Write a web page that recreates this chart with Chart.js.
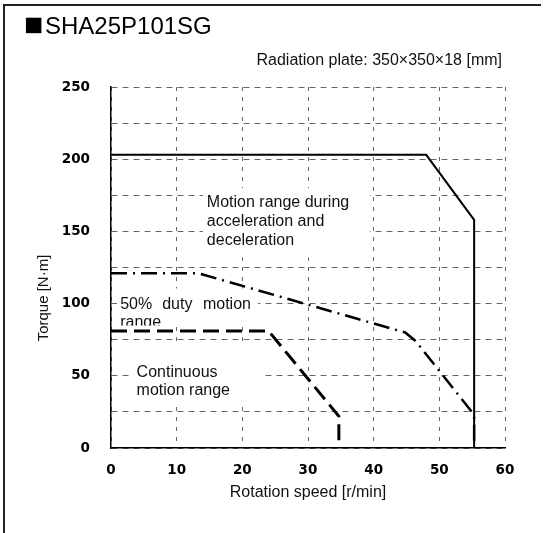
<!DOCTYPE html>
<html><head><meta charset="utf-8">
<script src="https://cdn.jsdelivr.net/npm/chart.js@4.4.0/dist/chart.umd.min.js"></script>
<style>html,body{margin:0;padding:0;background:#fff;} #c{display:block;}</style>
</head><body>
<canvas id="c" width="551" height="533"></canvas>
<script>
const chartTitle = 'SHA25P101SG';
const chartSubtitle = 'Radiation plate: 350×350×18 [mm]';
const xAxisTitle = 'Rotation speed [r/min]';
const yAxisTitle = 'Torque [N·m]';
const xTickLabels = [0, 10, 20, 30, 40, 50, 60];
const yTickLabels = [0, 50, 100, 150, 200, 250];

const accelSpeed  = [0, 48, 55.3, 55.3];
const accelTorque = [203, 203, 158, 0];
const dutySpeed   = [0, 13.3, 44.8, 46.4, 55.3, 55.3];
const dutyTorque  = [121, 121, 80, 74, 23, 0];
const contSpeed   = [0, 24, 34.7, 34.7];
const contTorque  = [81, 81, 22, 0];

const accelLabel = ['Motion range during', 'acceleration and', 'deceleration'];
const dutyLabel  = ['50%', 'duty', 'motion', 'range'];
const contLabel  = ['Continuous', 'motion range'];

const FONT = '"Liberation Sans", Arial, sans-serif';
const toPts = (xs, ys) => xs.map((v, i) => ({x: v, y: ys[i]}));

const annot = {
  id: 'annot',
  beforeDatasetsDraw(chart) {
    const {ctx, scales: {x, y}} = chart;
    ctx.save();
    ctx.fillStyle = '#fff';
    const box = (x0, x1, y0, y1) => {
      const px0 = x.getPixelForValue(x0), px1 = x.getPixelForValue(x1);
      const py0 = y.getPixelForValue(y0), py1 = y.getPixelForValue(y1);
      ctx.fillRect(px0, py1, px1 - px0, py0 - py1);
    };
    box(14.0, 39.4, 132, 180);
    box(0.9, 22.4, 85, 110.5);
    box(3.1, 23.1, 31.2, 72.7);
    ctx.fillStyle = '#111';
    ctx.font = '16px ' + FONT;
    ctx.textBaseline = 'alphabetic';
    ctx.textAlign = 'left';
    let bx = x.getPixelForValue(14.6), by = y.getPixelForValue(167);
    accelLabel.forEach((t, i) => ctx.fillText(t, bx, by + i * 19));
    by = y.getPixelForValue(96.5);
    ctx.fillText(dutyLabel[0], x.getPixelForValue(1.4), by);
    ctx.fillText(dutyLabel[1], x.getPixelForValue(7.8), by);
    ctx.fillText(dutyLabel[2], x.getPixelForValue(14.0), by);
    ctx.save();
    const clipY = y.getPixelForValue(84.8);
    ctx.beginPath();
    ctx.rect(0, 0, chart.width, clipY);
    ctx.clip();
    ctx.fillText(dutyLabel[3], x.getPixelForValue(1.4), by + 18);
    ctx.restore();
    bx = x.getPixelForValue(3.9); by = y.getPixelForValue(49);
    contLabel.forEach((t, i) => ctx.fillText(t, bx, by + i * 18));
    ctx.restore();
  },
  afterDraw(chart) {
    const {ctx, chartArea: ca} = chart;
    ctx.save();
    ctx.strokeStyle = '#222';
    ctx.lineWidth = 2;
    ctx.beginPath();
    ctx.moveTo(4, 533); ctx.lineTo(4, 5); ctx.lineTo(541, 5);
    ctx.stroke();
    ctx.fillStyle = '#000';
    ctx.textBaseline = 'alphabetic';
    ctx.textAlign = 'left';
    ctx.font = '32px ' + FONT;
    ctx.fillText('■', 24, 35);
    ctx.font = '24px ' + FONT;
    ctx.fillText(chartTitle, 45, 33.7);
    ctx.fillStyle = '#111';
    ctx.font = '16px ' + FONT;
    ctx.textAlign = 'right';
    ctx.fillText(chartSubtitle, 502, 65);
    ctx.textAlign = 'center';
    ctx.fillText(xAxisTitle, (ca.left + ca.right) / 2, 496.5);
    ctx.translate(47.5, 298);
    ctx.rotate(-Math.PI / 2);
    ctx.font = '15px ' + FONT;
    ctx.fillText(yAxisTitle, 0, 0);
    ctx.restore();
  }
};

new Chart(document.getElementById('c'), {
  type: 'scatter',
  data: {
    datasets: [
      { data: toPts(accelSpeed, accelTorque), showLine: true, borderColor: '#000', borderWidth: 2, pointRadius: 0, tension: 0 },
      { data: toPts(dutySpeed, dutyTorque), showLine: true, borderColor: '#000', borderWidth: 2.5, borderDash: [16, 6, 2, 6], pointRadius: 0, tension: 0 },
      { data: toPts(contSpeed, contTorque), showLine: true, borderColor: '#000', borderWidth: 3, borderDash: [16, 7], pointRadius: 0, tension: 0 }
    ]
  },
  options: {
    responsive: false,
    animation: false,
    layout: { padding: { left: 0, right: 46, top: 87, bottom: 0 } },
    plugins: { legend: { display: false }, tooltip: { enabled: false }, title: { display: false } },
    scales: {
      x: {
        type: 'linear', min: 0, max: 60,
        afterFit: s => { s.height = 85; },
        ticks: {
          stepSize: 10, padding: 14, color: '#000',
          font: { family: '"DejaVu Sans"', size: 13.5, weight: 'bold' },
          callback: v => xTickLabels.includes(v) ? String(v) : ''
        },
        grid: { color: '#666', lineWidth: 1, drawTicks: false },
        border: { display: true, color: '#000', width: 1.5, dash: [4, 6] }
      },
      y: {
        type: 'linear', min: 0, max: 250,
        afterFit: s => { s.width = 111; },
        ticks: {
          stepSize: 25, padding: 21, color: '#000',
          font: { family: '"DejaVu Sans"', size: 13.5, weight: 'bold' },
          callback: v => yTickLabels.includes(v) ? String(v) : ''
        },
        grid: { color: '#666', lineWidth: 1, drawTicks: false },
        border: { display: true, color: '#000', width: 1.5, dash: [6, 5] }
      }
    }
  },
  plugins: [annot]
});
</script>
</body></html>
